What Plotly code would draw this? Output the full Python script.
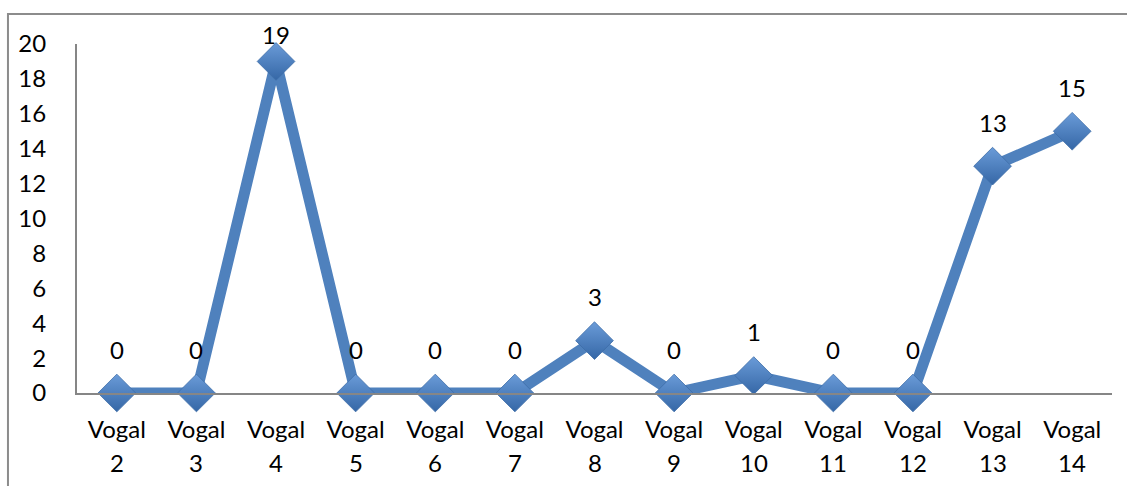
import plotly.graph_objects as go

# Vowel categories and counts
categories = ["Vogal 2", "Vogal 3", "Vogal 4", "Vogal 5", "Vogal 6", "Vogal 7", "Vogal 8",
              "Vogal 9", "Vogal 10", "Vogal 11", "Vogal 12", "Vogal 13", "Vogal 14"]
values = [0, 0, 19, 0, 0, 0, 3, 0, 1, 0, 0, 13, 15]
y_ticks = [0, 2, 4, 6, 8, 10, 12, 14, 16, 18, 20]

FONT = "Lato"
FS = 24
BLUE = "#4F81BD"
W, H = 1127, 486
M = dict(l=77, r=15, t=44, b=93)
plot_h = H - M["t"] - M["b"]
y_max = 20

xs = list(range(len(categories)))

fig = go.Figure()
fig.add_trace(go.Scatter(
    x=xs, y=values, mode="lines+markers",
    line=dict(color=BLUE, width=11),
    marker=dict(symbol="diamond", size=29, color="#6A9BD8",
                gradient=dict(type="vertical", color="#3567A6"),
                line=dict(color="#3E6DA8", width=0.8)),
    cliponaxis=False, hoverinfo="skip",
))

# value labels above each point, kept inside the chart area
annotations = []
for x, v in zip(xs, values):
    px_from_top = plot_h * (1 - v / y_max)
    shift = min(44, px_from_top + 9)
    annotations.append(dict(x=x, y=v, xref="x", yref="y", text=str(v), showarrow=False,
                            yanchor="middle", yshift=shift,
                            font=dict(family=FONT, size=FS, color="#000")))

# second line of each category label
for x, c in zip(xs, categories):
    annotations.append(dict(x=x, y=0, xref="x", yref="paper", text=c.split(" ")[1],
                            showarrow=False, yanchor="middle", yshift=-69,
                            font=dict(family=FONT, size=FS, color="#000")))

fig.update_layout(
    width=W, height=H, margin=M,
    paper_bgcolor="white", plot_bgcolor="white",
    showlegend=False,
    font=dict(family=FONT, size=FS, color="#000"),
    annotations=annotations,
    xaxis=dict(range=[-0.5, len(categories) - 0.5], tickmode="array", tickvals=xs,
               ticktext=[c.split(" ")[0] for c in categories],
               showgrid=False, zeroline=False, showline=True, linecolor="#868686", linewidth=2,
               ticks="", ticklabelstandoff=14, tickfont=dict(family=FONT, size=FS)),
    yaxis=dict(range=[0, y_max], tickmode="array", tickvals=y_ticks,
               showgrid=False, zeroline=False, showline=True, linecolor="#868686", linewidth=2,
               ticks="", ticklabelstandoff=24, tickfont=dict(family=FONT, size=FS)),
    shapes=[dict(type="rect", xref="paper", yref="paper",
                 x0=-0.0667, x1=1.02, y0=-0.3, y1=1.086,
                 line=dict(color="#8C8C8C", width=2), fillcolor="rgba(0,0,0,0)", layer="below")],
)

fig.write_html("out.html")
